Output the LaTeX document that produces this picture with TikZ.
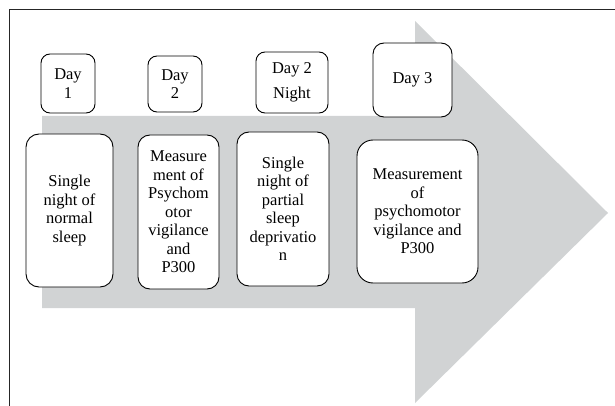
\documentclass[tikz,border=0pt]{standalone}
\usepackage{fontspec}
\setmainfont{Liberation Serif}
\begin{document}
\begin{tikzpicture}[x=1pt,y=-1pt,
  box/.style={draw=black,line width=0.9pt,fill=white,rounded corners=9pt,align=center,
    font=\fontsize{16.5}{18.5}\selectfont,inner sep=0pt},
  frameline/.style={draw=black!85,line width=1pt}]
\useasboundingbox (0,0) rectangle (615,406);
% frame (top and left edges only)
\draw[frameline] (9,406) -- (9,10) -- (615,10);
% big arrow
\fill[fill=gray!35!white,fill={rgb,255:red,209;green,211;blue,212}]
  (42,116) -- (415,116) -- (415,21) -- (608,213) -- (415,403) -- (415,308) -- (42,308) -- cycle;
% top day boxes
\node[box,minimum width=54pt,minimum height=59pt] (d1) at (68,83.5) {Day\\1};
\node[box,minimum width=54pt,minimum height=56pt] (d2) at (175,84) {Day\\2};
\node[box,minimum width=72pt,minimum height=61pt] (d2n) at (292,82.5) {Day 2\\[7pt]Night};
\node[box,minimum width=79pt,minimum height=74pt,rounded corners=11pt] (d3) at (412.5,80) {Day 3};
% lower boxes
\node[box,minimum width=87pt,minimum height=153pt,rounded corners=13pt] (b1) at (69.5,210.5)
  {Single\\night of\\normal\\sleep};
\node[box,minimum width=81pt,minimum height=154pt,rounded corners=12pt] (b2) at (178.5,212)
  {Measure\\ment of\\Psychom\\otor\\vigilance\\and\\P300};
\node[box,minimum width=92pt,minimum height=154pt,rounded corners=12pt] (b3) at (283,209)
  {Single\\night of\\partial\\sleep\\deprivatio\\n};
\node[box,minimum width=121pt,minimum height=143pt,rounded corners=16pt] (b4) at (417.5,211.5)
  {Measurement\\of\\psychomotor\\vigilance and\\P300};
\end{tikzpicture}
\end{document}
